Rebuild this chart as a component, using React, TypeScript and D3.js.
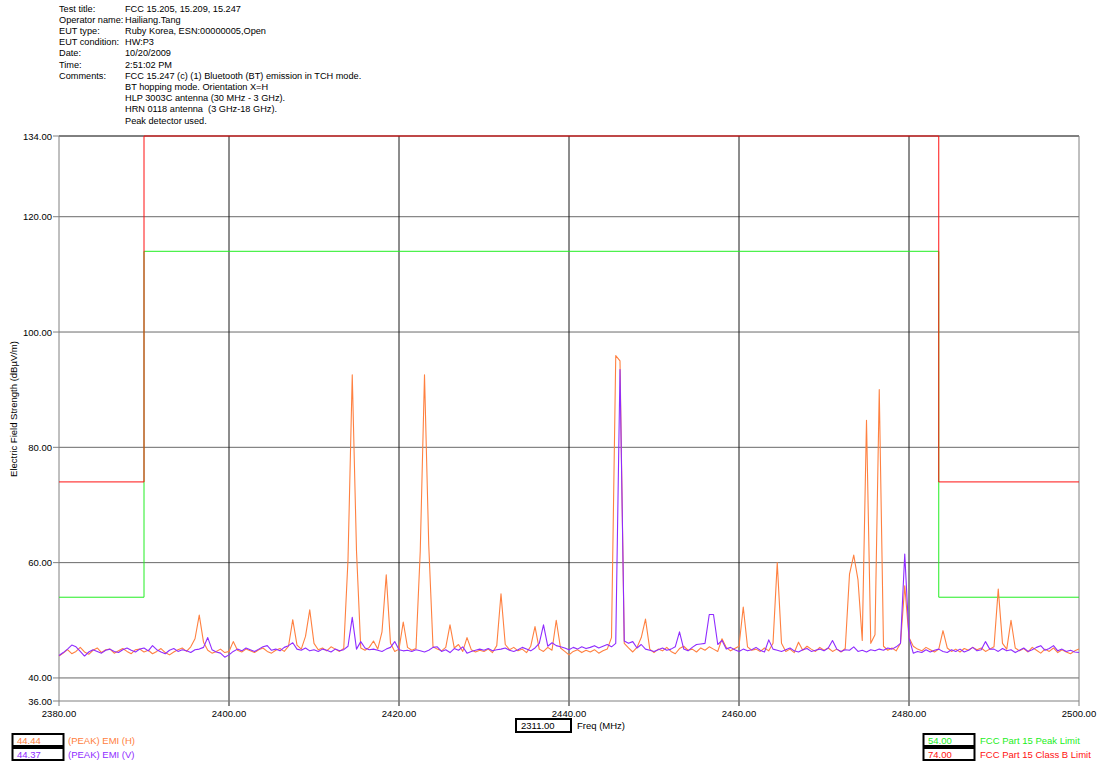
import React from "react";
import * as d3 from "d3";

// header block (test info)
const headerLabels = ["Test title:", "Operator name:", "EUT type:", "EUT condition:", "Date:", "Time:", "Comments:", "", "", "", ""];
const headerValues = [
  "FCC 15.205, 15.209, 15.247",
  "Hailiang.Tang",
  "Ruby Korea, ESN:00000005,Open",
  "HW:P3",
  "10/20/2009",
  "2:51:02 PM",
  "FCC 15.247 (c) (1) Bluetooth (BT) emission in TCH mode.",
  "BT hopping mode. Orientation X=H",
  "HLP 3003C antenna (30 MHz - 3 GHz).",
  "HRN 0118 antenna  (3 GHz-18 GHz).",
  "Peak detector used.",
];

const yTicks = [134, 120, 100, 80, 60, 40, 36];
const yGrid = [120, 100, 80, 60, 40];
const xTicks = [2380, 2400, 2420, 2440, 2460, 2480, 2500];
const xGrid = [2400, 2420, 2440, 2460, 2480];

// sweep: 2380 -> 2500 MHz, one reading every 0.5 MHz
const freqStart = 2380;
const freqStep = 0.5;

// (PEAK) EMI (H), dBuV/m
const emiH = [
  43.8, 44.3, 44.9, 44.2, 44.6, 45.3, 44.5, 44.1, 44.8, 45.2, 44.4, 44.9, 45.0, 44.3, 44.7, 45.1, 44.6, 44.2, 44.9, 45.0,
  44.5, 44.8, 44.2, 44.6, 45.1, 44.4, 44.0, 44.5, 44.9, 45.2, 44.6, 45.4, 46.8, 50.9, 46.2, 44.8, 44.3, 44.6, 45.0, 44.4,
  44.6, 46.3, 44.8, 44.5, 45.0, 44.7, 44.4, 44.9, 45.2, 44.6, 44.3, 44.8, 45.1, 44.6, 45.5, 50.1, 45.7, 45.0, 47.2, 51.8,
  46.0, 44.9, 45.2, 44.7, 45.4, 45.0, 44.6, 45.1, 60.5, 92.6, 62.0, 45.2, 44.8, 45.3, 46.4, 45.0, 48.0, 57.9, 46.0, 44.6,
  45.0, 49.7, 45.3, 44.8, 45.1, 62.0, 92.6, 63.0, 45.4, 45.0, 44.7, 45.3, 49.2, 45.2, 45.8, 44.6, 47.0, 44.9, 44.5, 44.8,
  44.6, 45.0, 44.4, 45.6, 54.6, 45.8, 44.9, 45.3, 44.7, 45.0, 44.4, 45.5, 48.9, 45.0, 44.6, 45.3, 44.8, 50.0, 45.2, 44.6,
  44.0, 44.6, 44.9, 44.4, 44.8, 44.5, 44.9, 44.3, 44.7, 45.0, 47.0, 95.9, 95.0, 46.0, 45.2, 44.5, 45.3, 47.0, 50.2, 45.0,
  44.4, 45.0, 44.7, 45.3, 44.6, 44.2, 45.1, 45.5, 44.8, 45.0, 44.5, 45.2, 44.8, 45.4, 45.0, 44.6, 46.8, 45.3, 44.7, 45.1,
  45.5, 52.3, 45.4, 44.8, 45.0, 44.6, 45.2, 44.7, 46.0, 60.0, 46.0, 44.6, 45.0, 44.4, 46.2, 44.8, 45.5, 45.0, 44.6, 45.3,
  44.8, 45.2, 44.6, 45.0, 44.5, 45.1, 58.0, 61.3, 57.0, 46.5, 84.7, 46.0, 47.5, 90.0, 45.5, 44.8, 45.2, 44.7, 46.0, 56.0,
  47.0, 45.5, 45.0, 44.7, 45.3, 44.9, 44.5, 45.0, 48.2, 45.2, 44.6, 45.0, 44.5, 45.1, 44.8, 45.3, 44.9, 45.2, 44.6, 45.0,
  45.4, 55.4, 46.0, 45.0, 50.0, 45.2, 44.7, 45.1, 44.5, 45.3, 44.8, 44.3, 45.0, 44.6, 45.2, 44.4, 44.9, 44.5, 44.2, 44.7,
  45.0,
];

// (PEAK) EMI (V), dBuV/m
const emiV = [
  43.9, 44.4, 45.0, 45.7, 45.4, 44.6, 43.8, 44.5, 44.9, 44.6, 44.3, 44.8, 45.0, 44.6, 44.4, 44.9, 45.2, 44.8, 44.5, 45.0,
  45.2, 44.7, 45.6, 44.9, 44.5, 44.2, 44.8, 45.1, 44.6, 44.9, 44.7, 44.4, 44.9, 45.0, 45.3, 47.0, 44.9, 44.5, 44.3, 43.6,
  44.0, 44.6, 45.0, 44.7, 45.2, 44.9, 44.6, 45.0, 45.4, 45.6, 44.8, 45.0, 44.7, 45.3, 45.6, 46.1, 45.0, 44.8, 45.2, 44.7,
  44.9, 44.6, 45.0, 44.8, 44.5, 45.0, 44.7, 44.9, 45.5, 50.5, 45.0, 46.3, 45.2, 44.9, 45.0, 44.8, 44.6, 45.0, 45.3, 46.3,
  44.9, 44.7, 44.8, 44.6, 44.9, 44.7, 44.5, 44.8, 45.3, 45.4, 44.6, 44.9, 44.4, 45.1, 44.8, 45.4, 44.3, 44.6, 44.8, 45.0,
  44.8, 45.1, 44.7, 44.9, 45.0, 45.2, 44.8, 44.6, 44.9, 45.3, 45.0, 44.7, 45.2, 46.0, 49.2, 45.5, 46.1, 45.6, 45.4, 45.2,
  44.9, 45.3, 45.0, 45.4, 45.1, 45.3, 45.6, 45.2, 45.5, 45.8, 45.4, 46.0, 93.5, 46.4, 46.0, 46.3, 45.2, 45.8, 45.0, 44.8,
  44.6, 44.9, 45.2, 44.8, 45.0, 45.4, 48.0, 45.0, 44.7, 45.3, 45.8, 45.9, 46.0, 51.0, 51.0, 45.8, 46.5, 45.0, 45.3, 44.9,
  44.6, 45.0, 44.7, 44.9, 45.3, 44.8, 44.5, 46.6, 45.0, 44.8, 44.6, 44.9, 45.2, 44.7, 44.5, 44.9, 45.1, 44.6, 44.8, 45.0,
  44.7, 45.2, 46.5, 45.0, 44.6, 44.9, 44.8, 45.4, 44.6, 44.8, 44.5, 44.9, 44.7, 45.0, 44.8, 45.2, 45.0, 45.4, 46.0, 61.5,
  47.0, 44.3, 44.6, 44.4, 44.9, 44.5, 44.8, 45.0, 44.6, 44.4, 44.9, 44.6, 45.0, 44.5, 44.8, 45.3, 44.7, 44.9, 46.3, 45.0,
  45.0, 44.6, 45.1, 44.7, 44.9, 44.4, 44.8, 45.2, 44.6, 44.9, 45.3, 45.6, 44.8, 45.1, 45.6, 44.7, 45.0, 44.6, 44.8, 44.5,
  44.4,
];

// limit lines (restricted band edges at 2390 / 2483.5 MHz)
const limitFreqs = [2380, 2390, 2390, 2483.5, 2483.5, 2500];
const peakLimit = [54, 54, 114, 114, 54, 54];
const classBLimit = [74, 74, 134, 134, 74, 74];

const leftLegend = [
  { value: "44.44", name: "(PEAK) EMI (H)", color: "#ff8040" },
  { value: "44.37", name: "(PEAK) EMI (V)", color: "#8f2bff" },
];
const rightLegend = [
  { value: "54.00", name: "FCC Part 15 Peak Limit", color: "#22ee22" },
  { value: "74.00", name: "FCC Part 15 Class B Limit", color: "#ff1010" },
];

const W = 1099;
const H = 767;
const font = "'Liberation Sans', Arial, sans-serif";

export default function App() {
  const x = d3.scaleLinear().domain([2380, 2500]).range([59, 1079]);
  const y = d3.scaleLinear().domain([36, 134]).range([701, 136]);

  const freqs = emiH.map((_, i) => freqStart + i * freqStep);
  const trace = d3
    .line<number>()
    .x((_, i) => x(freqs[i]))
    .y((d) => y(d));
  const limitLine = d3
    .line<number>()
    .x((_, i) => x(limitFreqs[i]))
    .y((d) => y(d));

  const [x0, x1] = x.range();
  const [yBot, yTop] = y.range();

  return (
    <svg
      width={W}
      height={H}
      style={{ position: "absolute", left: 0, top: 0, background: "#fff" }}
      fontFamily={font}
      fontSize={9.5}
    >
      <rect width={W} height={H} fill="#fff" />

      {/* header */}
      {headerValues.map((v, i) => (
        <g key={i} fontSize={9.2}>
          <text x={59} y={11.5 + i * 11.2} fill="#000">{headerLabels[i]}</text>
          <text x={125} y={11.5 + i * 11.2} fill="#000" style={{ whiteSpace: "pre" }}>{v}</text>
        </g>
      ))}

      {/* grid */}
      {yGrid.map((t) => (
        <line key={t} x1={x0} x2={x1} y1={y(t)} y2={y(t)} stroke="#6a6a6a" />
      ))}
      <line x1={x0} x2={x1} y1={yTop} y2={yTop} stroke="#000" />
      {xGrid.map((t) => (
        <line key={t} x1={x(t)} x2={x(t)} y1={yTop} y2={yBot + 5} stroke="#1a1a1a" />
      ))}

      {/* axes frame */}
      <line x1={x0} x2={x0} y1={yTop} y2={yBot + 5} stroke="#808080" />
      <line x1={x1} x2={x1} y1={yTop} y2={yBot + 5} stroke="#808080" />
      <line x1={x0} x2={x1} y1={yBot} y2={yBot} stroke="#808080" />
      {yTicks.map((t) => (
        <g key={t}>
          <line x1={x0 - 6} x2={x0} y1={y(t)} y2={y(t)} stroke="#808080" />
          <text x={x0 - 7} y={y(t) + 3.5} textAnchor="end" fill="#000">{t.toFixed(2)}</text>
        </g>
      ))}
      {xTicks.map((t) => (
        <text key={t} x={x(t)} y={717} textAnchor="middle" fill="#000">{t.toFixed(2)}</text>
      ))}
      <text transform="translate(17,409) rotate(-90)" textAnchor="middle" fill="#000">
        Electric Field Strength (dBµV/m)
      </text>

      {/* limits */}
      <path d={limitLine(peakLimit) ?? ""} fill="none" stroke="#22ee22" strokeWidth={1} />
      <path d={limitLine(classBLimit) ?? ""} fill="none" stroke="#ff1010" strokeWidth={1} />

      {/* traces */}
      <path d={trace(emiH) ?? ""} fill="none" stroke="#ff8040" strokeWidth={1.1} strokeLinejoin="round" />
      <path d={trace(emiV) ?? ""} fill="none" stroke="#8f2bff" strokeWidth={1.1} strokeLinejoin="round" />

      {/* x axis title with marker readout */}
      <rect x={516} y={719} width={55} height={13} fill="#fff" stroke="#000" strokeWidth={2} />
      <text x={521} y={729} fill="#000">2311.00</text>
      <text x={577} y={729} fill="#000">Freq (MHz)</text>

      {/* legends */}
      {leftLegend.map((d, i) => (
        <g key={d.name}>
          <rect x={12.5} y={734 + i * 14} width={51} height={12} fill="#fff" stroke="#000" strokeWidth={2} />
          <text x={17} y={744 + i * 14} fill={d.color}>{d.value}</text>
          <text x={68} y={744 + i * 14} fill={d.color}>{d.name}</text>
        </g>
      ))}
      {rightLegend.map((d, i) => (
        <g key={d.name}>
          <rect x={923.5} y={734 + i * 14} width={51} height={12} fill="#fff" stroke="#000" strokeWidth={2} />
          <text x={928} y={744 + i * 14} fill={d.color}>{d.value}</text>
          <text x={980} y={744 + i * 14} fill={d.color}>{d.name}</text>
        </g>
      ))}
    </svg>
  );
}
